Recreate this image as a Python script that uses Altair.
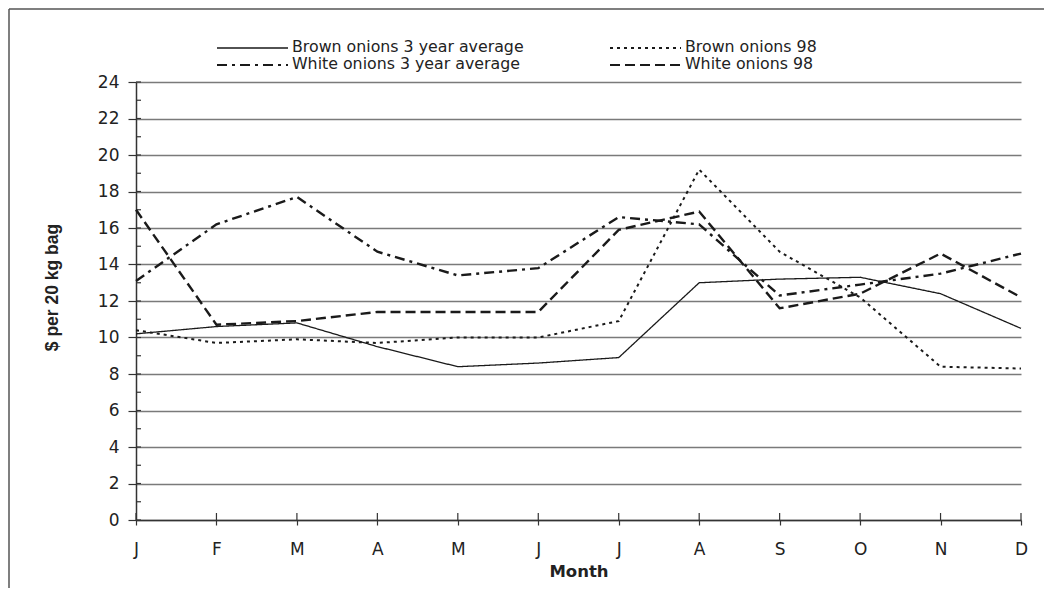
import altair as alt
import pandas as pd

# ---- data ----
months = ["J", "F", "M", "A", "M", "J", "J", "A", "S", "O", "N", "D"]
brown_avg = [10.2, 10.6, 10.8, 9.5, 8.4, 8.6, 8.9, 13.0, 13.2, 13.3, 12.4, 10.5]
brown_98 = [10.4, 9.7, 9.9, 9.7, 10.0, 10.0, 10.9, 19.2, 14.7, 12.2, 8.4, 8.3]
white_avg = [13.1, 16.2, 17.7, 14.7, 13.4, 13.8, 16.6, 16.2, 12.3, 12.9, 13.5, 14.6]
white_98 = [17.0, 10.7, 10.9, 11.4, 11.4, 11.4, 15.9, 16.9, 11.6, 12.4, 14.6, 12.2]
series_names = [
    "Brown onions 3 year average",
    "Brown onions 98",
    "White onions 3 year average",
    "White onions 98",
]
y_ticks = list(range(0, 25, 2))
y_minor = list(range(0, 25))

# ---- styles ----
dashes = [[1, 0], [3, 4], [10, 5, 3, 5], [10, 5]]
widths = [1.3, 2.0, 2.4, 2.4]
INK = "#1a1a1a"
FONT = "DejaVu Sans"

W, H = 885, 438

rows = []
for name, vals in zip(series_names, [brown_avg, brown_98, white_avg, white_98]):
    for i, v in enumerate(vals):
        rows.append({"series": name, "m": i, "v": v})
df = pd.DataFrame(rows)

x_scale = alt.Scale(domain=[0, 11], nice=False, zero=False)
y_scale = alt.Scale(domain=[0, 24], nice=False)

label_expr = "[" + ",".join(f"'{m}'" for m in months) + "][datum.value]"

xaxis = alt.Axis(
    values=list(range(12)), labelExpr=label_expr, grid=False,
    tickSize=5, tickColor="#333", tickWidth=1.2,
    domainColor="#333", domainWidth=1.5,
    labelFont=FONT, labelFontSize=17, labelColor="#222", labelPadding=16,
    labelFlush=False, labelOverlap=False,
    title="Month", titleFont=FONT, titleFontSize=16.5, titleFontWeight="bold",
    titleColor="#222", titleX=W / 2, titleY=56, titleBaseline="alphabetic",
    titleAlign="center",
)
yaxis = alt.Axis(
    values=y_ticks, grid=True, gridColor="#7a7a7a", gridWidth=1.5,
    tickSize=8, tickColor="#333", tickWidth=1.2,
    domainColor="#333", domainWidth=1.5,
    labelFont=FONT, labelFontSize=17, labelColor="#222", labelPadding=9,
    title="$ per 20 kg bag", titleFont="Liberation Sans", titleFontSize=17.5,
    titleFontWeight="bold", titleColor="#222", titleAngle=270,
    titleX=-84, titleY=205, titleAlign="center", titleBaseline="middle",
)

layers = []

# inner minor ticks on y axis
layers.append(
    alt.Chart(pd.DataFrame({"t": y_minor})).mark_rule(color="#333", strokeWidth=1.2).encode(
        y=alt.Y("t:Q", scale=y_scale, axis=yaxis),
        x=alt.value(0), x2=alt.value(5),
    )
)
# inner part of x ticks
layers.append(
    alt.Chart(pd.DataFrame({"m": list(range(12))})).mark_rule(color="#333", strokeWidth=1.2).encode(
        x=alt.X("m:Q", scale=x_scale, axis=xaxis),
        y=alt.value(H - 7), y2=alt.value(H),
    )
)

for name, dash, w in zip(series_names, dashes, widths):
    layers.append(
        alt.Chart(df[df.series == name]).mark_line(
            stroke=INK, strokeDash=dash, strokeWidth=w
        ).encode(
            x=alt.X("m:Q", scale=x_scale, axis=xaxis),
            y=alt.Y("v:Q", scale=y_scale, axis=yaxis),
        )
    )

# legend (decorative layout)
leg_sym_x = [81, 474]
leg_sym_len = 71
leg_row_y = [-34, -17]
for k, (name, dash, w) in enumerate(zip(series_names, dashes, widths)):
    col, row = k % 2, k // 2
    x0 = leg_sym_x[col]
    yy = leg_row_y[row]
    ld = pd.DataFrame({"label": [name]})
    layers.append(
        alt.Chart(ld).mark_rule(stroke=INK, strokeDash=dash, strokeWidth=min(w, 2.0)).encode(
            x=alt.value(x0), x2=alt.value(x0 + leg_sym_len), y=alt.value(yy)
        )
    )
    layers.append(
        alt.Chart(ld).mark_text(
            align="left", baseline="middle", font=FONT, fontSize=15.8, color="#222"
        ).encode(
            text="label:N", x=alt.value(x0 + leg_sym_len + 4), y=alt.value(yy - 1)
        )
    )

# outer frame (left and top edges visible)
frame = pd.DataFrame({"f": [0]})
layers.append(
    alt.Chart(frame).mark_rule(color="#555", strokeWidth=1.5).encode(
        x=alt.value(-127), y=alt.value(-73), y2=alt.value(600)
    )
)
layers.append(
    alt.Chart(frame).mark_rule(color="#555", strokeWidth=1.5).encode(
        x=alt.value(-127), x2=alt.value(1000), y=alt.value(-73)
    )
)

chart = alt.layer(*layers).properties(
    width=W, height=H,
    autosize=alt.AutoSizeParams(type="none"),
    padding={"left": 128, "top": 74, "right": 23, "bottom": 68},
    background="white",
).configure_view(strokeWidth=0)

chart.save("out.html", embed_options={"renderer": "svg", "actions": False})
